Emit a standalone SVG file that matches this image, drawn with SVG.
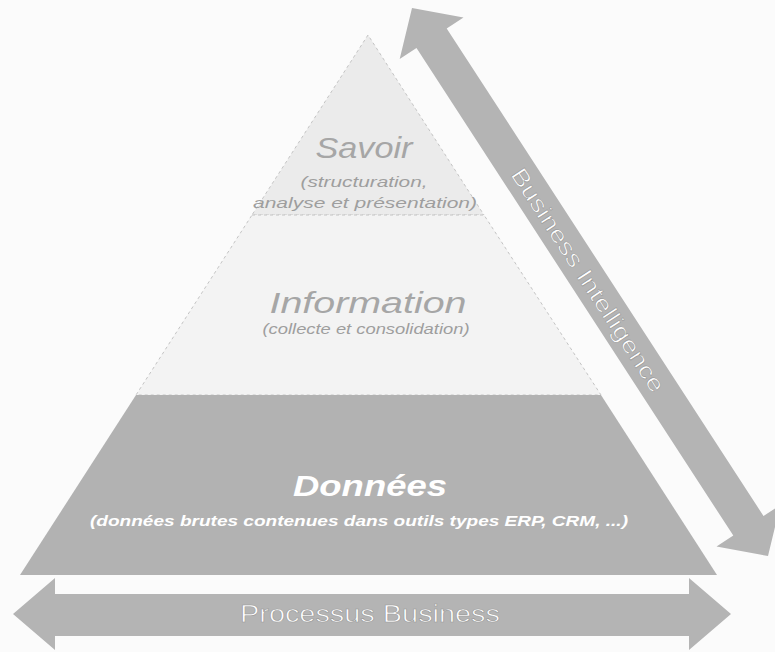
<svg xmlns="http://www.w3.org/2000/svg" width="775" height="652" viewBox="0 0 775 652">
  <style>
    .t { font-family: "Liberation Sans", Arial, sans-serif; font-style: italic; }
    .title-light { font-size: 29px; fill: #a6a6a6; }
    .sub-light { font-size: 15px; fill: #9e9e9e; }
    .title-dark { font-size: 29px; font-weight: bold; fill: #ffffff; }
    .sub-dark { font-size: 15px; font-weight: bold; fill: #ffffff; }
    .arrow { fill: #b4b4b4; }
    .arrow-text { font-family: "Liberation Sans", Arial, sans-serif; font-size: 23px; fill: #ffffff; stroke: #9a9a9a; stroke-width: 0.6; }
    .band-edge { stroke: #c4c4c4; stroke-width: 1; stroke-dasharray: 3 3; }
  </style>
  <rect x="0" y="0" width="775" height="652" fill="#fbfbfb"/>

  <g id="savoir">
    <polygon points="368,35 252,215 484,215" fill="#ebebeb" class="band-edge"/>
    <text class="t title-light" x="364" y="158" text-anchor="middle" textLength="97" lengthAdjust="spacingAndGlyphs">Savoir</text>
    <text class="t sub-light" x="364" y="187" text-anchor="middle" textLength="127" lengthAdjust="spacingAndGlyphs">(structuration,</text>
    <text class="t sub-light" x="365" y="208" text-anchor="middle" textLength="224" lengthAdjust="spacingAndGlyphs">analyse et présentation)</text>
  </g>

  <g id="information">
    <polygon points="252,215 484,215 601,395 136,395" fill="#f3f3f3" class="band-edge"/>
    <text class="t title-light" x="368" y="313" text-anchor="middle" textLength="197" lengthAdjust="spacingAndGlyphs">Information</text>
    <text class="t sub-light" x="366" y="334" text-anchor="middle" textLength="207" lengthAdjust="spacingAndGlyphs">(collecte et consolidation)</text>
  </g>

  <g id="donnees">
    <polygon points="136,395 601,395 717,575 20,575" fill="#b2b2b2"/>
    <text class="t title-dark" x="370" y="496" text-anchor="middle" textLength="154" lengthAdjust="spacingAndGlyphs">Données</text>
    <text class="t sub-dark" x="359" y="526" text-anchor="middle" textLength="538" lengthAdjust="spacingAndGlyphs">(données brutes contenues dans outils types ERP, CRM, ...)</text>
  </g>

  <g id="connectors">
    <g id="business-intelligence">
      <polygon class="arrow" fill="#adadad" points="412,8 463.5,17.5 446.7,28.4 763.5,516 780.3,505.1 768,556 716.5,546.5 733.3,535.6 416.5,48 399.7,58.9"/>
      <text class="arrow-text" transform="translate(588,280) rotate(57)" x="0" y="8" text-anchor="middle" textLength="262" lengthAdjust="spacingAndGlyphs">Business Intelligence</text>
    </g>
    <g id="processus-business">
      <polygon class="arrow" points="13,614 55,578 55,594 689,594 689,578 731,614 689,650 689,636 55,636 55,650"/>
      <text class="arrow-text" x="370" y="622" text-anchor="middle" textLength="260" lengthAdjust="spacingAndGlyphs">Processus Business</text>
    </g>
  </g>
</svg>
